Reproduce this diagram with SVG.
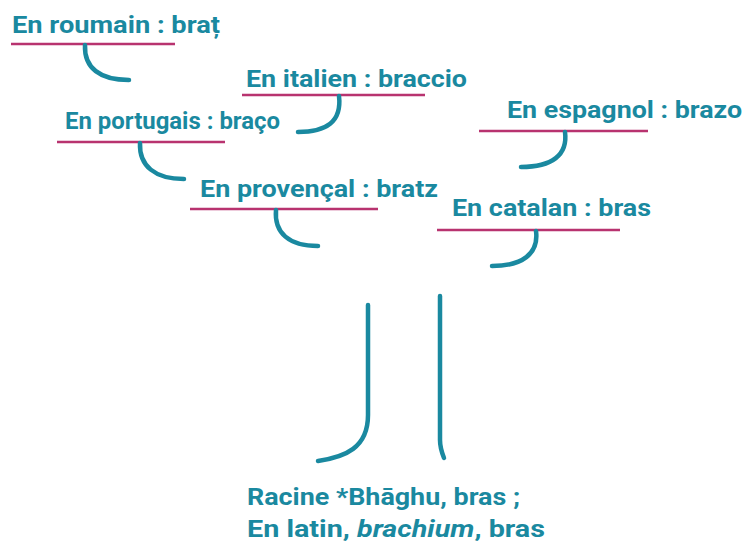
<svg xmlns="http://www.w3.org/2000/svg" width="746" height="544" viewBox="0 0 746 544">
<style>
.t{font-family:Roboto,"Liberation Sans",sans-serif;font-weight:bold;font-size:24px;fill:#1a89a0}
.u{stroke:#b8336f;stroke-width:2.5;fill:none}
.c{stroke:#1a89a0;stroke-width:4.5;fill:none;stroke-linecap:round}
</style>
<rect width="746" height="544" fill="#fff"/>
<g id="roumain">
<text class="t" x="12" y="33" textLength="208" lengthAdjust="spacingAndGlyphs">En roumain : braț</text>
<line class="u" x1="11" y1="44" x2="175" y2="44"/>
</g>
<g id="italien">
<text class="t" x="246" y="87" textLength="221" lengthAdjust="spacingAndGlyphs">En italien : braccio</text>
<line class="u" x1="242" y1="95" x2="425" y2="95"/>
</g>
<g id="espagnol">
<text class="t" x="507" y="118" textLength="235" lengthAdjust="spacingAndGlyphs">En espagnol : brazo</text>
<line class="u" x1="479" y1="131" x2="648" y2="131"/>
</g>
<g id="portugais">
<text class="t" x="65" y="129" textLength="215" lengthAdjust="spacingAndGlyphs">En portugais : braço</text>
<line class="u" x1="57" y1="142" x2="225" y2="142"/>
</g>
<g id="provencal">
<text class="t" x="200" y="197" textLength="238" lengthAdjust="spacingAndGlyphs">En provençal : bratz</text>
<line class="u" x1="190" y1="209" x2="378" y2="209"/>
</g>
<g id="catalan">
<text class="t" x="452" y="216" textLength="199" lengthAdjust="spacingAndGlyphs">En catalan : bras</text>
<line class="u" x1="437" y1="230" x2="620" y2="230"/>
</g>
<g id="racine">
<text class="t" x="247" y="505" textLength="273" lengthAdjust="spacingAndGlyphs">Racine *Bhāghu, bras ;</text>
<text class="t" x="247" y="537" textLength="298" lengthAdjust="spacingAndGlyphs">En latin, <tspan font-style="italic">brachium</tspan>, bras</text>
</g>
<g id="connectors">
<path class="c" d="M85,45 C84,68 100,80 129,80"/>
<path class="c" d="M339,96 C342,122 326,132 298,132"/>
<path class="c" d="M565,132 C568,155 552,167 521,167"/>
<path class="c" d="M140,143 C139,166 155,179 184,179"/>
<path class="c" d="M276,210 C274,233 289,246 318,246"/>
<path class="c" d="M536,231 C539,254 522,266 492,266"/>
<path class="c" d="M368,305 L368,415 C368,448 345,457 318,461" stroke-linecap="butt"/>
<path class="c" d="M440,296 L440,440 C440,448 442,453 444,458" stroke-linecap="butt"/>
</g>
</svg>
